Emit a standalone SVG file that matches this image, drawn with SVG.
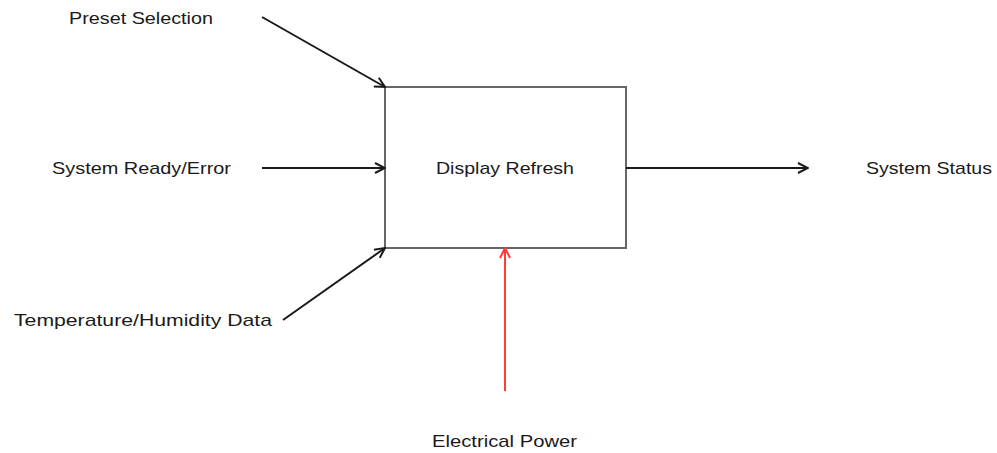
<svg xmlns="http://www.w3.org/2000/svg" width="997" height="453" viewBox="0 0 997 453">
<style>
.t{font-family:"Liberation Sans","Open Sans",Arial,sans-serif;font-size:17px;fill:#1a1a1a}
.c{stroke:#1a1a1a;stroke-width:2;fill:none}
</style>
<defs>
<marker id="ah" viewBox="0 0 12 12" refX="11" refY="6" markerWidth="12" markerHeight="12" markerUnits="userSpaceOnUse" orient="auto">
<path d="M1,1 L11,6 L1,11" fill="none" stroke="#1a1a1a" stroke-width="2"/>
</marker>
<marker id="ahr" viewBox="0 0 12 12" refX="11" refY="6" markerWidth="12" markerHeight="12" markerUnits="userSpaceOnUse" orient="auto">
<path d="M1,1 L11,6 L1,11" fill="none" stroke="#ff3b3b" stroke-width="2"/>
</marker>
</defs>
<rect width="997" height="453" fill="#fff"/>
<g id="process">
<rect x="385" y="87" width="241" height="161" fill="none" stroke="#666" stroke-width="2"/>
<text class="t" x="505" y="174" text-anchor="middle" textLength="138" lengthAdjust="spacingAndGlyphs">Display Refresh</text>
</g>
<g id="preset"><text class="t" x="69" y="24" textLength="144" lengthAdjust="spacingAndGlyphs">Preset Selection</text></g>
<g id="ready"><text class="t" x="52" y="174" textLength="179" lengthAdjust="spacingAndGlyphs">System Ready/Error</text></g>
<g id="temp"><text class="t" x="14" y="326" textLength="258" lengthAdjust="spacingAndGlyphs">Temperature/Humidity Data</text></g>
<g id="status"><text class="t" x="866" y="174" textLength="126" lengthAdjust="spacingAndGlyphs">System Status</text></g>
<g id="power"><text class="t" x="432" y="447" textLength="145" lengthAdjust="spacingAndGlyphs">Electrical Power</text></g>
<g id="connectors">
<line class="c" x1="262" y1="17" x2="385" y2="87" marker-end="url(#ah)"/>
<line class="c" x1="262" y1="168" x2="385" y2="168" marker-end="url(#ah)"/>
<line class="c" x1="283" y1="320" x2="385" y2="248" marker-end="url(#ah)"/>
<line class="c" x1="626" y1="168" x2="808" y2="168" marker-end="url(#ah)"/>
<line x1="505" y1="391" x2="505" y2="248" stroke="#ff3b3b" stroke-width="2" marker-end="url(#ahr)"/>
</g>
</svg>
